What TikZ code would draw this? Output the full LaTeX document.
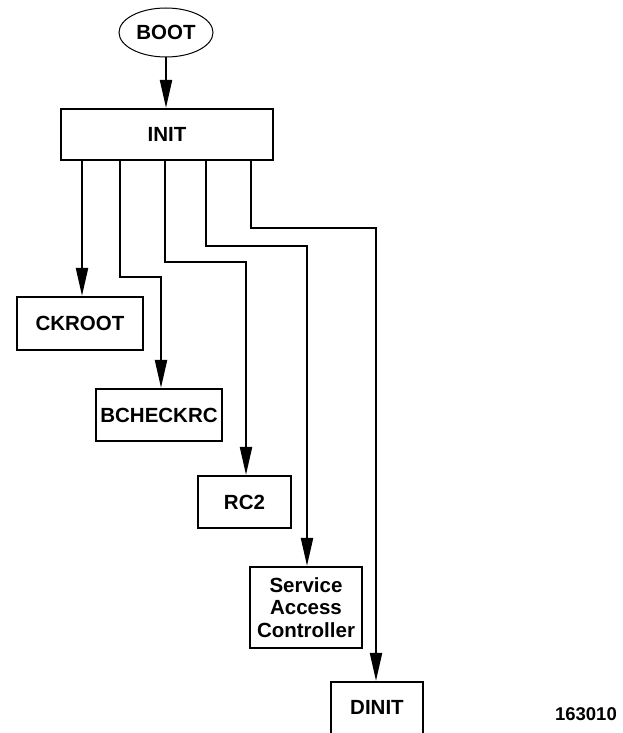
\documentclass[tikz,border=0pt]{standalone}
\usepackage{fontspec}
\setmainfont{Liberation Sans}
\usetikzlibrary{arrows.meta,shapes.geometric}

\tikzset{
  procbox/.style={draw, line width=2.2pt, rectangle, inner sep=0pt,
    font=\fontsize{20.5}{22.5}\selectfont\bfseries, align=center},
  startshape/.style={draw, line width=1pt, ellipse, inner sep=0pt,
    font=\fontsize{20.5}{22.5}\selectfont\bfseries},
  flow/.style={line width=2.2pt, -{Triangle[length=28pt,width=12pt]}}
}

\begin{document}
\begin{tikzpicture}[x=1pt,y=-1pt]
  \useasboundingbox (0,0) rectangle (623,733);

  % process nodes
  \node[startshape, minimum width=94pt, minimum height=49pt] (boot) at (166,32.5) {BOOT};
  \node[procbox, minimum width=212pt, minimum height=51pt] (init) at (167,134.5) {INIT};
  \node[procbox, minimum width=126pt, minimum height=53pt] (ckroot) at (80,323.5) {CKROOT};
  \node[procbox, minimum width=126pt, minimum height=52pt] (bcheckrc) at (159,415) {BCHECKRC};
  \node[procbox, minimum width=93pt, minimum height=52pt] (rctwo) at (244.5,502) {RC2};
  \node[procbox, minimum width=112pt, minimum height=81pt] (sac) at (306,607.5) {Service\\Access\\Controller};
  \node[procbox, minimum width=92pt, minimum height=58pt, text depth=8pt] (dinit) at (377,711) {DINIT};

  % figure number
  \node[font=\fontsize{18.5}{20}\selectfont\bfseries, anchor=east, inner sep=0pt] (fignum) at (617,714) {163010};

  % connectors
  \draw[flow] (boot.south) -- (init.north -| boot.south);
  \draw[flow] (init.south -| 82,0) -- (ckroot.north -| 82,0);
  \draw[flow] (init.south -| 120,0) |- (161,277) -- (bcheckrc.north -| 161,0);
  \draw[flow] (init.south -| 165,0) |- (246,262) -- (rctwo.north -| 246,0);
  \draw[flow] (init.south -| 206,0) |- (307,246) -- (sac.north -| 307,0);
  \draw[flow] (init.south -| 251,0) |- (376,228) -- (dinit.north -| 376,0);
\end{tikzpicture}
\end{document}
